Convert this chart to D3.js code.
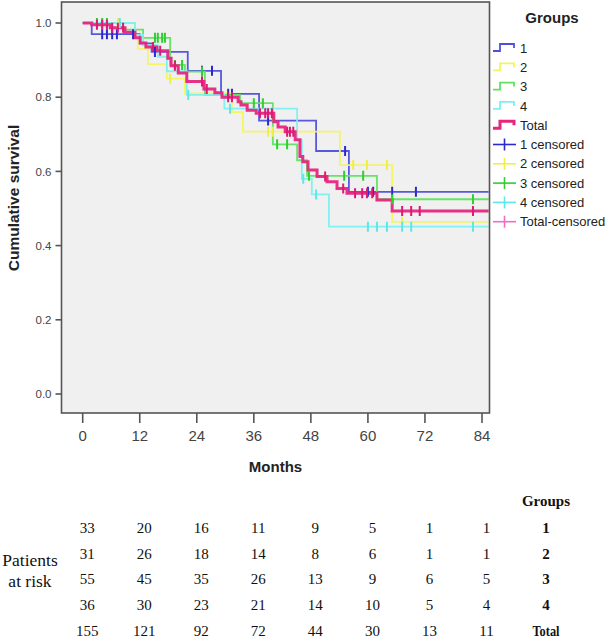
<!DOCTYPE html>
<html><head><meta charset="utf-8">
<script src="https://cdn.jsdelivr.net/npm/d3@7"></script>
<style>
html,body{margin:0;padding:0;background:#fff;}
svg{display:block;}
</style></head>
<body>
<svg id="chart" width="609" height="638"></svg>
<script>
// ---------- data ----------
const monthTicks = [0, 12, 24, 36, 48, 60, 72, 84];
const survTicks = [0, 0.2, 0.4, 0.6, 0.8, 1.0];
const endMonth = 85.4;

const g1Steps = [[0,1],[1.9,0.970],[12.0,0.945],[14.5,0.922],[22.1,0.871],[29.1,0.809],[37.1,0.737],[49.1,0.655],[56.0,0.545]];
const g1Cens = [4.1,5.1,6.2,7.2,10.6,15.2,25.1,27.2,30.6,31.4,39.0,55.2,60.0,61.1,65.1,70.1];

const g2Steps = [[0,1],[11.0,0.962],[11.6,0.93],[13.7,0.889],[17.7,0.85],[21.5,0.81],[31.4,0.76],[33.7,0.707],[54.1,0.617],[65.1,0.464]];
const g2Cens = [7.4,18.4,39.0,40.0,56.9,59.8,64.0,67.2];

const g3Steps = [[0,1],[8.5,0.982],[12.7,0.96],[18.4,0.887],[21.5,0.869],[25.7,0.806],[33.1,0.784],[40.0,0.673],[45.1,0.63],[47.2,0.588],[61.9,0.525]];
const g3Cens = [3.0,4.1,5.1,15.2,15.8,16.7,17.3,19.4,20.9,25.1,36.0,37.9,40.9,43.0,47.6,55.0,59.0,65.1,82.1];

const g4Steps = [[0,1],[11.0,0.968],[12.7,0.94],[15.8,0.909],[17.7,0.87],[21.9,0.806],[29.8,0.769],[45.1,0.685],[46.1,0.58],[48.2,0.538],[51.8,0.451]];
const g4Cens = [7.8,22.2,31.0,46.4,49.1,60.0,61.9,64.0,67.2,69.1,82.1];

const totalSteps = [[0,1],[1.9,0.995],[5.8,0.987],[8.9,0.975],[11.0,0.96],[12.1,0.946],[13.3,0.935],[15.6,0.925],[17.9,0.905],[18.6,0.885],[20.1,0.865],[21.9,0.842],[25.5,0.822],[27.8,0.812],[29.3,0.80],[32.7,0.788],[33.3,0.779],[34.6,0.765],[36.5,0.757],[40.2,0.734],[41.1,0.72],[42.6,0.707],[44.7,0.685],[45.7,0.64],[46.3,0.626],[47.4,0.604],[49.3,0.586],[51.4,0.572],[53.5,0.554],[55.6,0.541],[61.9,0.523],[65.1,0.493]];
const totalCens = [3.0,4.1,5.1,6.2,7.4,8.5,14.8,16.3,19.4,25.1,26.1,30.6,31.4,37.3,38.4,39.0,39.8,43.0,43.6,44.3,51.0,54.8,57.3,58.8,59.8,60.9,67.2,69.1,70.9,82.1];

const legendNames = ["1","2","3","4","Total","1 censored","2 censored","3 censored","4 censored","Total-censored"];

const riskGroups = ["1","2","3","4","Total"];
const riskCounts = [
  [33,20,16,11,9,5,1,1],
  [31,26,18,14,8,6,1,1],
  [55,45,35,26,13,9,6,5],
  [36,30,23,21,14,10,5,4],
  [155,121,92,72,44,30,13,11]
];

// ---------- styles ----------
const series = [
  {steps:g1Steps, cens:g1Cens, color:"#4f4fdc", cColor:"#2a2ad0", w:1.8},
  {steps:g2Steps, cens:g2Cens, color:"#f4f45e", cColor:"#efef4a", w:1.8},
  {steps:g3Steps, cens:g3Cens, color:"#5fe35f", cColor:"#2fcf2f", w:1.8},
  {steps:g4Steps, cens:g4Cens, color:"#7cf0f0", cColor:"#5fe6ea", w:1.8},
  {steps:totalSteps, cens:totalCens, color:"#e6257f", cColor:"#dc1a73", w:3}
];

const svg = d3.select("#chart");
const x = d3.scaleLinear().domain([0,84]).range([82.7,482]);
const y = d3.scaleLinear().domain([0,1]).range([394,23]);
const frame = {l:61.5, r:489.5, t:2, b:413};

// plot background
svg.append("rect").attr("x",frame.l).attr("y",frame.t)
  .attr("width",frame.r-frame.l).attr("height",frame.b-frame.t)
  .attr("fill","#f0f0f0");

svg.append("clipPath").attr("id","clip").append("rect")
  .attr("x",frame.l).attr("y",frame.t).attr("width",frame.r-frame.l).attr("height",frame.b-frame.t);

const plot = svg.append("g").attr("clip-path","url(#clip)");
const line = d3.line().x(d=>x(d[0])).y(d=>y(d[1])).curve(d3.curveStepAfter);

function valueAt(steps,t){
  let v = steps[0][1];
  for (const s of steps){ if (s[0] <= t) v = s[1]; }
  return v;
}

series.forEach(s=>{
  const pts = s.steps.concat([[endMonth, s.steps[s.steps.length-1][1]]]);
  plot.append("path").attr("d",line(pts)).attr("fill","none")
    .attr("stroke",s.color).attr("stroke-width",s.w).attr("stroke-opacity",0.95);
});
series.forEach(s=>{
  plot.selectAll(null).data(s.cens).enter().append("line")
    .attr("x1",d=>x(d)).attr("x2",d=>x(d))
    .attr("y1",d=>y(valueAt(s.steps,d))-5).attr("y2",d=>y(valueAt(s.steps,d))+5)
    .attr("stroke",s.cColor).attr("stroke-width",2);
});

// frame
svg.append("rect").attr("x",frame.l).attr("y",frame.t)
  .attr("width",frame.r-frame.l).attr("height",frame.b-frame.t)
  .attr("fill","none").attr("stroke","#555").attr("stroke-width",1.6);

// y axis
const yAxis = svg.append("g");
survTicks.forEach(v=>{
  yAxis.append("line").attr("x1",frame.l-6).attr("x2",frame.l).attr("y1",y(v)).attr("y2",y(v))
    .attr("stroke","#555").attr("stroke-width",1.6);
  yAxis.append("text").attr("x",frame.l-10).attr("y",y(v)).attr("dy","0.36em")
    .attr("text-anchor","end").attr("font-family","Liberation Sans, Arial, sans-serif")
    .attr("font-size",11.5).attr("fill","#444").text(d3.format(".1f")(v));
});
// x axis
const xAxis = svg.append("g");
monthTicks.forEach(v=>{
  xAxis.append("line").attr("x1",x(v)).attr("x2",x(v)).attr("y1",frame.b).attr("y2",frame.b+10)
    .attr("stroke","#555").attr("stroke-width",1.6);
  xAxis.append("text").attr("x",x(v)).attr("y",441)
    .attr("text-anchor","middle").attr("font-family","Liberation Sans, Arial, sans-serif")
    .attr("font-size",15).attr("fill","#444").text(v);
});

svg.append("text").attr("x",(frame.l+frame.r)/2).attr("y",472).attr("text-anchor","middle")
  .attr("font-family","Liberation Sans, Arial, sans-serif").attr("font-weight","bold")
  .attr("font-size",15).attr("fill","#222").text("Months");
svg.append("text").attr("transform","translate(19,198) rotate(-90)").attr("text-anchor","middle")
  .attr("font-family","Liberation Sans, Arial, sans-serif").attr("font-weight","bold")
  .attr("font-size",15.5).attr("fill","#222").text("Cumulative survival");

// legend
const lg = svg.append("g");
lg.append("text").attr("x",552).attr("y",23).attr("text-anchor","middle")
  .attr("font-family","Liberation Sans, Arial, sans-serif").attr("font-weight","bold")
  .attr("font-size",15).attr("fill","#222").text("Groups");
legendNames.forEach((name,i)=>{
  const cy = 48 + i*19.3;
  const s = series[i % 5];
  const g = lg.append("g");
  if (i < 5){
    g.append("path").attr("d",`M493,${cy+3}H500V${cy-4}H514V${cy}`)
      .attr("fill","none").attr("stroke",s.color).attr("stroke-width",s.w);
  } else {
    const c = i===9 ? "#f06ec0" : s.cColor;
    g.append("line").attr("x1",493).attr("x2",516).attr("y1",cy).attr("y2",cy).attr("stroke",c).attr("stroke-width",1.6);
    g.append("line").attr("x1",504.5).attr("x2",504.5).attr("y1",cy-6).attr("y2",cy+6).attr("stroke",c).attr("stroke-width",1.6);
  }
  g.append("text").attr("x",520).attr("y",cy+4.6)
    .attr("font-family","Liberation Sans, Arial, sans-serif").attr("font-size",13).attr("fill","#222").text(name);
});

// risk table
const tb = svg.append("g").attr("font-family","Liberation Serif, Times New Roman, serif").attr("fill","#111");
tb.append("text").attr("x",546).attr("y",506).attr("text-anchor","middle")
  .attr("font-weight","bold").attr("font-size",15).text("Groups");
tb.append("text").attr("x",30).attr("y",566).attr("text-anchor","middle").attr("font-size",17.5).text("Patients");
tb.append("text").attr("x",30).attr("y",586.5).attr("text-anchor","middle").attr("font-size",17.5).text("at risk");
riskCounts.forEach((row,r)=>{
  const by = 533 + r*25.7;
  row.forEach((v,c)=>{
    tb.append("text").attr("x",x(monthTicks[c])+4.5).attr("y",by).attr("text-anchor","middle")
      .attr("font-size",15).text(v);
  });
  const t = tb.append("text").attr("x",546).attr("y",by).attr("text-anchor","middle")
    .attr("font-weight","bold").attr("font-size",15).text(riskGroups[r]);
  if (riskGroups[r] === "Total") t.attr("textLength",27).attr("lengthAdjust","spacingAndGlyphs");
});
</script>
</body></html>
